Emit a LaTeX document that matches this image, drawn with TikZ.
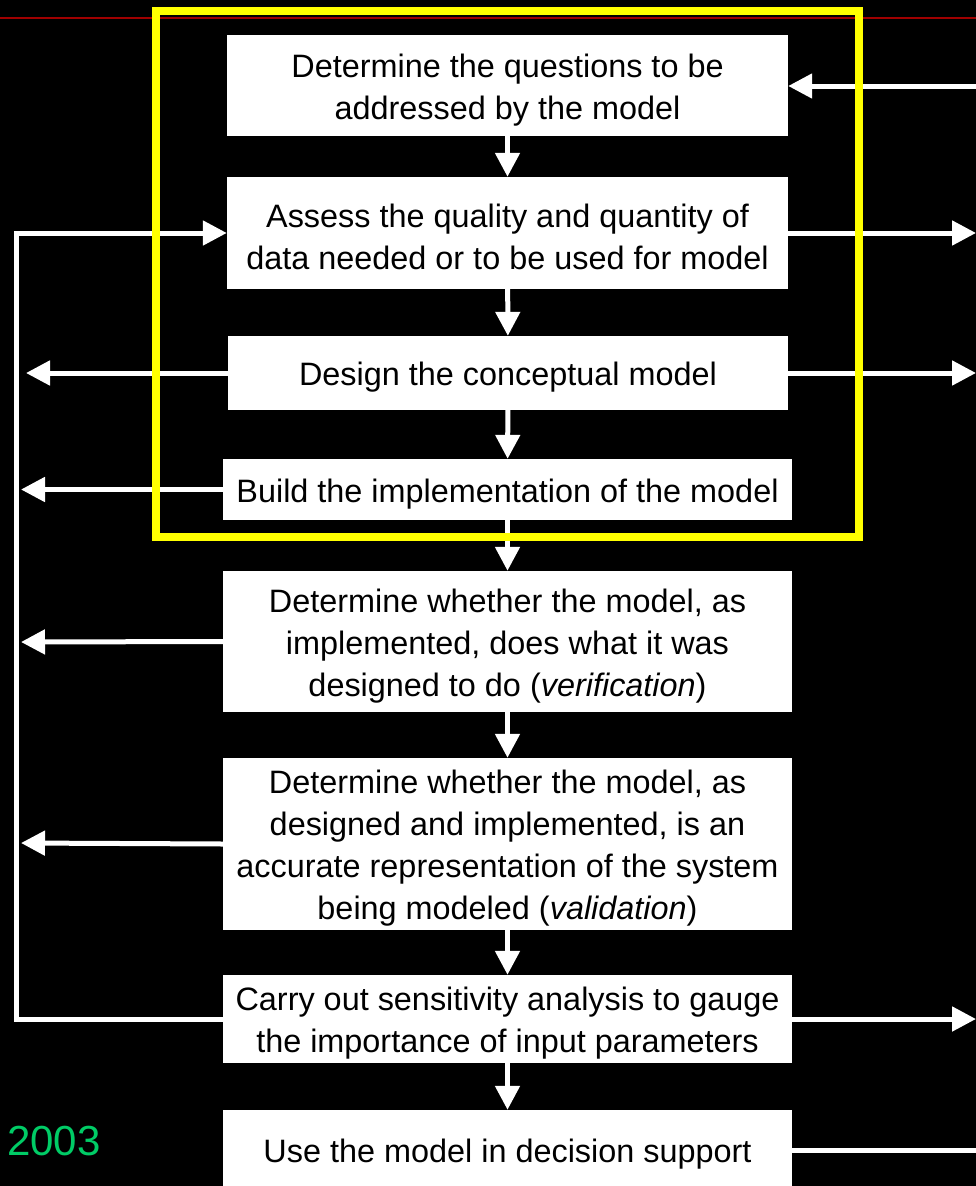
\documentclass[tikz,border=0pt]{standalone}
\usepackage{fontspec}
\setmainfont{Liberation Sans}
\usepackage{tikz}
\usetikzlibrary{arrows.meta,positioning}
\usepackage{xcolor}
\definecolor{mdred}{RGB}{160,0,0}
\definecolor{mdyellow}{RGB}{255,255,0}
\definecolor{mdgreen}{RGB}{0,204,102}
\newcommand{\toplift}{\rule{0pt}{32pt}}
\tikzstyle{stepbox} = [rectangle, fill=white, text=black, align=center, inner sep=0pt, font=\fontsize{32.4}{42}\selectfont]
\tikzstyle{arrow} = [line width=5pt, white, -{Triangle[length=24pt,width=24pt]}]
\tikzstyle{plain} = [line width=5pt, white]

\begin{document}
\begin{tikzpicture}[x=1pt, y=-1pt]
\useasboundingbox (0,0) rectangle (976,1186);
\fill[black] (0,0) rectangle (976,1186);
\draw[mdred, line width=2.5pt] (0,18) -- (976,18);

% Process steps
\node[stepbox, minimum width=561pt, minimum height=101pt] (questions) at (507.5,85.5) {\toplift Determine the questions to be\\addressed by the model};
\node[stepbox, minimum width=561pt, minimum height=112pt] (data) at (507.5,233) {\toplift Assess the quality and quantity of\\data needed or to be used for model};
\node[stepbox, minimum width=560pt, minimum height=74pt] (design) at (508,373) {\toplift Design the conceptual model};
\node[stepbox, minimum width=569pt, minimum height=61pt] (build) at (507.5,489.5) {\toplift Build the implementation of the model};
\node[stepbox, minimum width=569pt, minimum height=141pt] (verify) at (507.5,641.5) {\toplift Determine whether the model, as\\implemented, does what it was\\designed to do (\textit{verification})};
\node[stepbox, minimum width=569pt, minimum height=172pt] (validate) at (507.5,844) {\toplift Determine whether the model, as\\designed and implemented, is an\\accurate representation of the system\\being modeled (\textit{validation})};
\node[stepbox, minimum width=569pt, minimum height=88pt] (sensitivity) at (507.5,1019) {\toplift Carry out sensitivity analysis to gauge\\the importance of input parameters};
\node[stepbox, minimum width=569pt, minimum height=80pt] (decision) at (507.5,1150) {\toplift Use the model in decision support};

\node[anchor=base west, inner sep=0pt, text=mdgreen, font=\fontsize{42}{42}\selectfont] (year) at (7,1155) {2003};

% Main flow
\draw[arrow] (questions) -- (data);
\draw[arrow] (data) -- (design);
\draw[arrow] (design) -- (build);
\draw[arrow] (build) -- (verify);
\draw[arrow] (verify) -- (validate);
\draw[arrow] (validate) -- (sensitivity);
\draw[arrow] (sensitivity) -- (decision);

% Feedback
\draw[arrow] (sensitivity.west) -- (16.5,1019) |- (data.west);
\draw[arrow] (design.west) -- (26,373);
\draw[arrow] (build.west) -- (21,489.5);
\draw[arrow] (verify.west) -- (21,642);
\draw[arrow] (validate.west) -- (21,843);

% Off-page links
\draw[arrow] (976,86) -- (questions.east |- 0,86);
\draw[arrow] (data.east) -- (976,233);
\draw[arrow] (design.east) -- (976,373);
\draw[arrow] (sensitivity.east) -- (976,1019);
\draw[plain] (decision.east) -- (980,1150);

% Model scope
\draw[mdyellow, line width=8pt] (155.5,11) rectangle (859,537);
\end{tikzpicture}
\end{document}
